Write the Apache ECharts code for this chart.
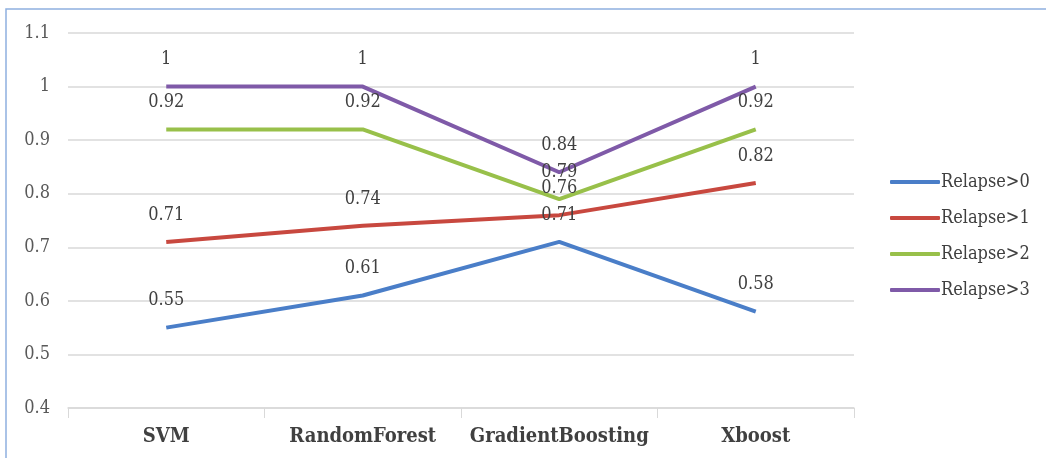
<!DOCTYPE html>
<html>
<head>
<meta charset="utf-8">
<script src="https://cdn.jsdelivr.net/npm/echarts@6/dist/echarts.min.js"></script>
<style>
  html, body { margin: 0; padding: 0; background: #fff; }
  #chart { width: 1046px; height: 458px; }
</style>
</head>
<body>
<div id="chart"></div>
<script>
// Model names along the x axis
const models = ['SVM', 'RandomForest', 'GradientBoosting', 'Xboost'];

// Score per model for each relapse threshold
const relapse0 = [0.55, 0.61, 0.71, 0.58];
const relapse1 = [0.71, 0.74, 0.76, 0.82];
const relapse2 = [0.92, 0.92, 0.79, 0.92];
const relapse3 = [1, 1, 0.84, 1];

const seriesNames = ['Relapse>0', 'Relapse>1', 'Relapse>2', 'Relapse>3'];
const seriesData = [relapse0, relapse1, relapse2, relapse3];
const colors = ['#4a7ec8', '#c8483f', '#98c04a', '#7f5aa8'];

const serif = '"DejaVu Serif Condensed", "DejaVu Serif", serif';

const chart = echarts.init(document.getElementById('chart'));
chart.setOption({
  animation: false,
  color: colors,
  grid: { left: 68, right: 192, top: 33, bottom: 50 },
  graphic: [{
    type: 'rect',
    shape: { x: 6, y: 9, width: 1100, height: 500 },
    style: { fill: 'none', stroke: '#8fb0e0', lineWidth: 1.5 },
    silent: true
  }],
  legend: {
    orient: 'vertical',
    left: 885,
    top: 168,
    itemWidth: 50,
    itemHeight: 4,
    itemGap: 18,
    icon: 'roundRect',
    textStyle: { fontFamily: serif, fontSize: 18, color: '#404040', padding: [0, 0, 0, -4] },
    data: seriesNames
  },
  xAxis: {
    type: 'category',
    data: models,
    boundaryGap: true,
    axisLine: { lineStyle: { color: '#d9d9d9', width: 1.5 } },
    axisTick: { show: true, interval: 0, length: 10, lineStyle: { color: '#d9d9d9' } },
    axisLabel: { interval: 0, fontFamily: serif, fontSize: 20, fontWeight: 'bold', color: '#404040', margin: 19 }
  },
  yAxis: {
    type: 'value',
    min: 0.4,
    max: 1.1,
    interval: 0.1,
    axisLine: { show: false },
    axisTick: { show: false },
    axisLabel: {
      fontFamily: serif, fontSize: 18, color: '#595959', margin: 18,
      formatter: v => String(Math.round(v * 10) / 10)
    },
    splitLine: { lineStyle: { color: '#d9d9d9', width: 1.5 } }
  },
  series: seriesNames.map((name, i) => ({
    name,
    type: 'line',
    data: seriesData[i],
    symbol: 'circle',
    symbolSize: 0,
    showSymbol: true,
    lineStyle: { width: 4, color: colors[i] },
    label: {
      show: true,
      position: 'top',
      distance: 18,
      fontFamily: serif,
      fontSize: 18,
      color: '#404040',
      formatter: p => String(p.value)
    }
  }))
});
</script>
</body>
</html>
